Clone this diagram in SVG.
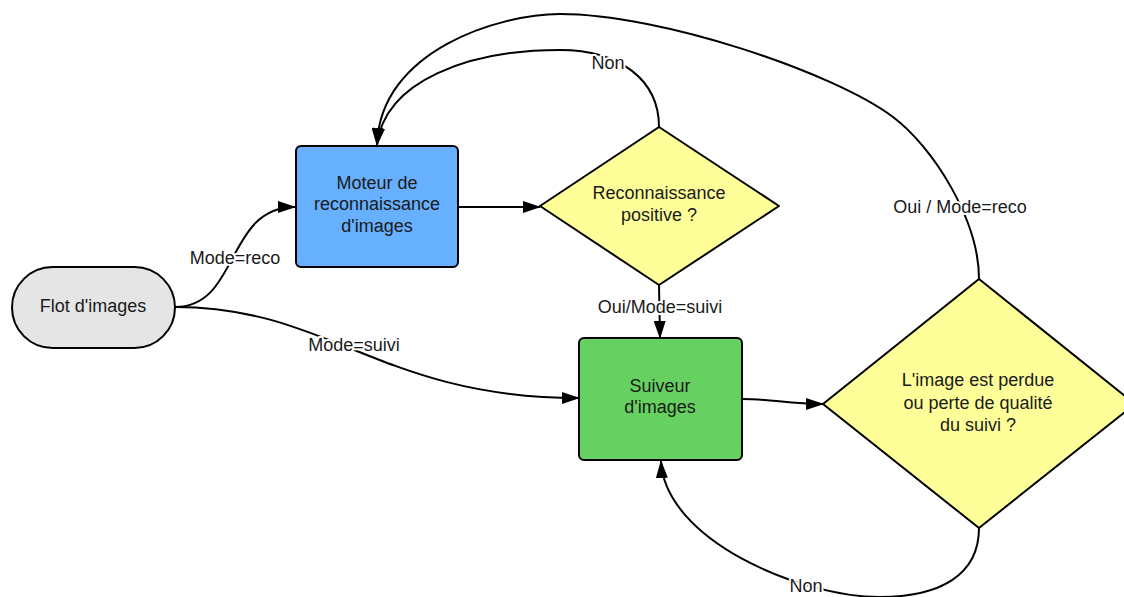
<svg xmlns="http://www.w3.org/2000/svg" width="1124" height="597" viewBox="0 0 1124 597">
  <defs>
    <marker id="arrow" markerUnits="userSpaceOnUse" markerWidth="18" markerHeight="12" refX="17" refY="6" orient="auto">
      <path d="M0,0 L18,6 L0,12 z" fill="#000"/>
    </marker>
    <style>
      .node { stroke: #000; stroke-width: 2; }
      .txt { font-family: "Liberation Sans", Arial, sans-serif; font-size: 18px; fill: #1a1a1a; text-anchor: middle; dominant-baseline: central; }
      .edge { fill: none; stroke: #000; stroke-width: 2; }
      .arr { marker-end: url(#arrow); }
      .lbl { font-family: "Liberation Sans", Arial, sans-serif; font-size: 18px; fill: #1a1a1a; text-anchor: middle; dominant-baseline: central; stroke: #fff; stroke-width: 4; stroke-linejoin: round; paint-order: stroke; }
    </style>
  </defs>
  <rect width="1124" height="597" fill="#fff"/>

  <!-- connectors -->
  <g id="connectors">
    <!-- Flot -> Moteur -->
    <path class="edge arr" d="M175,307 C240,307 225,207 295,207"/>
    <!-- Flot -> Suiveur -->
    <path class="edge arr" d="M175,307 C330,307 380,398 579,398"/>
    <!-- Moteur -> Reconnaissance -->
    <path class="edge arr" d="M458,207 L540,207"/>
    <!-- Reconnaissance (Oui) -> Suiveur -->
    <path class="edge arr" d="M659,285 L660,338"/>
    <!-- Reconnaissance (Non) -> Moteur -->
    <path class="edge arr" d="M659,127 C659,80 620,50 560,50 C470,50 385,80 377,145"/>
    <!-- Perte (Oui) -> Moteur -->
    <path class="edge arr" d="M979,279 C979,220 933,147 893,117 C833,72 660,14 560,14 C500,14 380,50 377,145"/>
    <!-- Suiveur -> Perte -->
    <path class="edge arr" d="M742,399 C770,399 790,404 823,404"/>
    <!-- Perte (Non) -> Suiveur -->
    <path class="edge arr" d="M979,528 C979,575 940,597 880,597 C800,597 665,540 661,461"/>

    <text class="lbl" x="235" y="258">Mode=reco</text>
    <text class="lbl" x="354" y="345">Mode=suivi</text>
    <text class="lbl" x="660" y="307">Oui/Mode=suivi</text>
    <text class="lbl" x="608" y="63">Non</text>
    <text class="lbl" x="960" y="207">Oui / Mode=reco</text>
    <text class="lbl" x="806" y="586">Non</text>
  </g>

  <g id="flot">
    <rect class="node" x="12" y="267" width="163" height="81" rx="40.5" ry="40.5" fill="#e5e5e5"/>
    <text class="txt" x="93" y="306">Flot d'images</text>
  </g>

  <g id="moteur">
    <rect class="node" x="296" y="146" width="162" height="121" rx="5" ry="5" fill="#66b0ff"/>
    <text class="txt" x="377" y="183">Moteur de</text>
    <text class="txt" x="377" y="204">reconnaissance</text>
    <text class="txt" x="377" y="226">d'images</text>
  </g>

  <g id="reconnaissance">
    <path class="node" d="M659,127 L779,206 L659,285 L540,206 Z" fill="#ffff99" stroke-linejoin="round"/>
    <text class="txt" x="659" y="193">Reconnaissance</text>
    <text class="txt" x="659" y="215">positive ?</text>
  </g>

  <g id="suiveur">
    <rect class="node" x="579" y="338" width="163" height="122" rx="5" ry="5" fill="#66d160"/>
    <text class="txt" x="660" y="386">Suiveur</text>
    <text class="txt" x="660" y="407">d'images</text>
  </g>

  <g id="perte">
    <path class="node" d="M979,279 L1135,404 L979,528 L823,404 Z" fill="#ffff99" stroke-linejoin="round"/>
    <text class="txt" x="978" y="380">L'image est perdue</text>
    <text class="txt" x="978" y="403">ou perte de qualité</text>
    <text class="txt" x="978" y="425">du suivi ?</text>
  </g>
</svg>
